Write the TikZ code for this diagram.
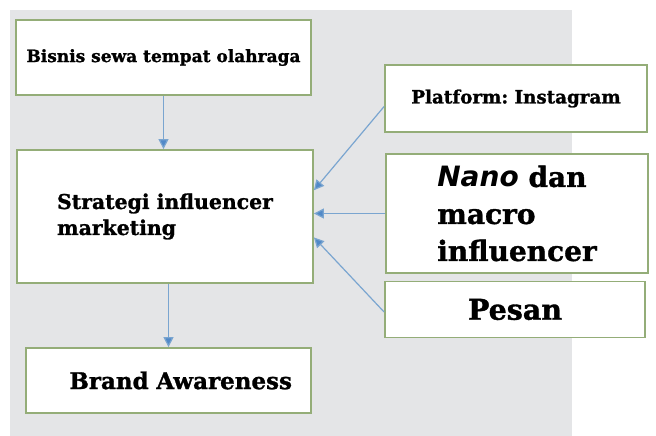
\documentclass[tikz,border=0pt]{standalone}
\usepackage{fontspec}
\usepackage{xcolor}
\usepackage{tikz}
\usetikzlibrary{arrows.meta}
\setmainfont{DejaVu Serif}[BoldFeatures={FakeBold=1.2}]
\newfontfamily\nanofont{DejaVu Sans}[BoldFeatures={FakeBold=1.2}]
\definecolor{bggray}{HTML}{E4E5E7}
\definecolor{boxgreen}{HTML}{94AD78}
\definecolor{arrblue}{HTML}{7AA5D0}
\definecolor{tipblue}{HTML}{5189C8}
\def\fs#1#2{\fontsize{#1}{#2}\selectfont\bfseries}
\frenchspacing

\begin{document}
\begin{tikzpicture}[x=1pt,y=-1pt,
    box/.style={draw=boxgreen, line width=1.8pt, fill=white, inner sep=0pt},
    arr/.style={draw=arrblue, line width=1.2pt, -{Triangle[length=10pt,width=10pt,fill=tipblue]}}]
  % background
  \useasboundingbox[fill=white] (0,0) rectangle (656,436);
  \fill[bggray] (10,10) rectangle (572,436);

  % left column
  \node[box, minimum width=295pt, minimum height=75pt, font=\fs{17}{21}] (bisnis) at (163.5,57.5)
    {Bisnis sewa tempat olahraga};
  \node[box, minimum width=296pt, minimum height=133pt, align=left, font=\fs{20.4}{26}] (strat) at (165,216.5)
    {Strategi influencer\\marketing};
  \node[box, text width=247pt, inner xsep=19pt, minimum height=65pt, align=right, font=\fs{23}{27}] (brand) at (168.5,380.5)
    {Brand Awareness};

  % right column
  \node[box, minimum width=262pt, minimum height=67pt, font=\fs{18.3}{22}] (plat) at (516,98.5)
    {Platform: Instagram};
  \node[box, minimum width=262pt, minimum height=119pt, align=left, font=\fs{28}{37}] (nano) at (517,213.5)
    {{\nanofont\itshape Nano} dan\\macro\\influencer};
  \node[box, minimum width=260pt, minimum height=56pt, font=\fs{28.5}{34}] (pesan) at (515,309.5)
    {Pesan};

  \path
    (bisnis.south) edge[arr] (bisnis.south |- strat.north)
    (brand.north |- strat.south) edge[arr] (brand.north)
    ([yshift=-8pt]plat.west) edge[arr] (strat.10)
    (nano.west) edge[arr] (nano.west -| strat.east)
    ([yshift=-2.5pt]pesan.west) edge[arr] (strat.-8);
\end{tikzpicture}
\end{document}
